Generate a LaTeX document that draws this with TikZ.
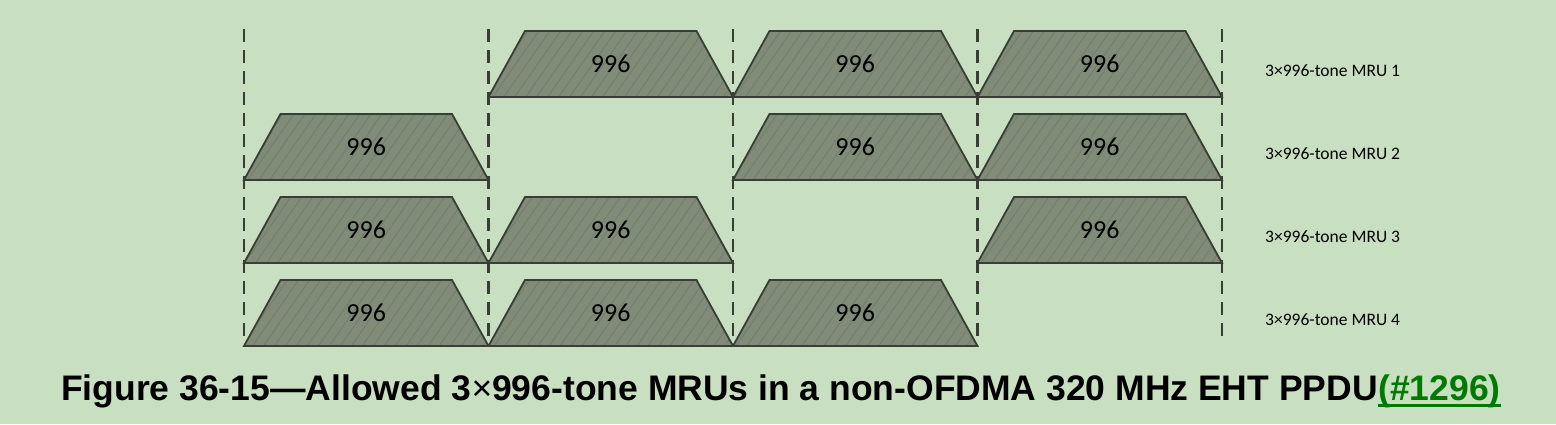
\documentclass[tikz,border=0pt]{standalone}
\usepackage{fontspec}
\setmainfont{Carlito}
\newfontfamily\capfont{Liberation Sans}
\usetikzlibrary{patterns.meta}
\definecolor{bgc}{HTML}{C9DFC1}
\definecolor{bandc}{HTML}{808B78}
\definecolor{hatchc}{HTML}{737D6C}
\definecolor{edgec}{HTML}{383E35}
\definecolor{linkc}{HTML}{007A00}

\begin{document}
\begin{tikzpicture}[x=1pt, y=-1pt,
  band/.style={draw=edgec, line width=1.8pt, preaction={fill=bandc}, pattern={Lines[angle=55,distance=9pt,line width=0.8pt]}, pattern color=hatchc},
  guide/.style={draw=edgec, line width=2.7pt, dash pattern=on 13pt off 8pt},
  num/.style={font=\fontsize{26}{30}\selectfont, inner sep=0pt},
  mru/.style={font=\fontsize{17.5}{20}\selectfont, inner sep=0pt, anchor=base west},
  captext/.style={font=\capfont\bfseries\fontsize{35.5}{40}\selectfont, inner sep=0pt, anchor=base west}]
  \fill[bgc] (0,0) rectangle (1556,424);
  \useasboundingbox (0,0) rectangle (1556,424);
  % 80 MHz channel boundaries
  \foreach \c in {0,...,4}{
    \coordinate (top\c) at (244+\c*244.5,29);
    \coordinate (bot\c) at (244+\c*244.5,341);
    \draw[guide] (top\c) -- (bot\c);
  }
  % one row per MRU, one trapezoid per 996-tone RU
  \foreach \r/\cols in {1/{1,2,3},2/{0,2,3},3/{0,1,3},4/{0,1,2}}{
    \pgfmathsetmacro{\yt}{31+(\r-1)*83}
    \foreach \c in \cols{
      \draw[band] (244+\c*244.5,\yt+66) -- ++(36.5,-66) -- ++(171.5,0) -- ++(36.5,66) -- cycle;
      \node[num] (ru\r\c) at (366.25+\c*244.5,\yt+33) {996};
    }
    \node[mru] (mru\r) at (1265,\yt+45) {3×996-tone MRU \r};
  }
  % caption
  \node[captext] (caption) at (61,400) {Figure 36-15—Allowed 3{\mdseries ×}996-tone MRUs in a non-OFDMA 320 MHz EHT PPDU};
  \node[captext, text=linkc] (tag) at (caption.base east) {(\#1296)};
  \draw[linkc, line width=3pt] ([yshift=-5.5pt]tag.base west) -- ([yshift=-5.5pt]tag.base east);
\end{tikzpicture}
\end{document}
